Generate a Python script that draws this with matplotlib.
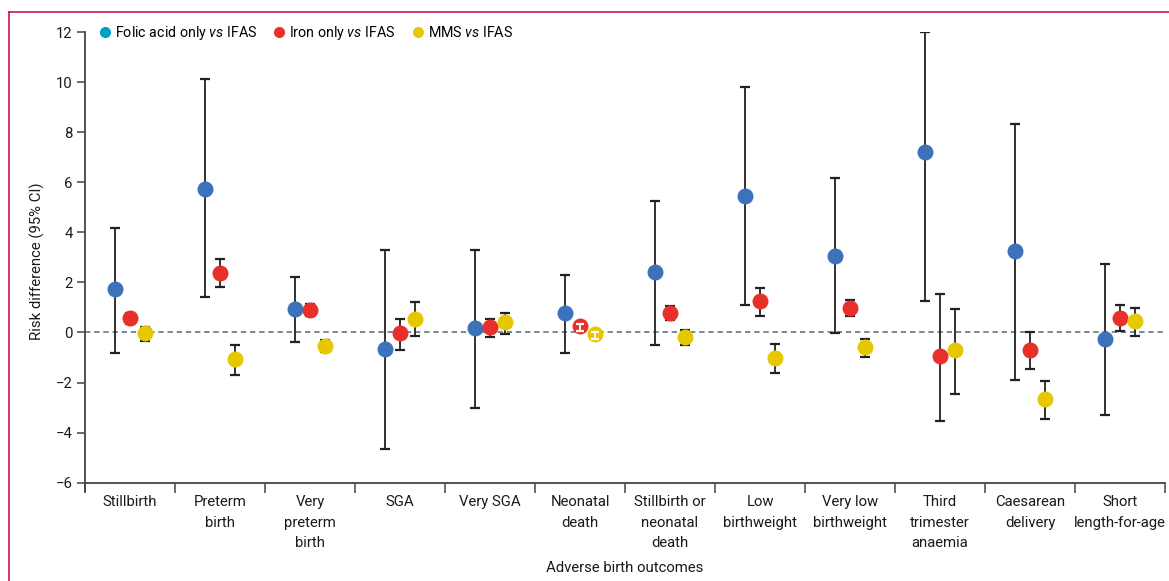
import numpy as np
import matplotlib.pyplot as plt
from matplotlib.lines import Line2D

plt.rcParams['font.family'] = ['Roboto', 'DejaVu Sans']
plt.rcParams['mathtext.fontset'] = 'custom'
plt.rcParams['mathtext.it'] = 'Roboto:italic'
plt.rcParams['mathtext.rm'] = 'Roboto'

outcomes = ["Stillbirth", "Preterm\nbirth", "Very\npreterm\nbirth", "SGA", "Very SGA",
            "Neonatal\ndeath", "Stillbirth or\nneonatal\ndeath", "Low\nbirthweight",
            "Very low\nbirthweight", "Third\ntrimester\nanaemia", "Caesarean\ndelivery",
            "Short\nlength-for-age"]

# risk differences with 95% CI
folic_rd = [1.72, 5.75, 0.95, -0.66, 0.16, 0.77, 2.42, 5.45, 3.07, 7.22, 3.26, -0.24]
folic_lo = [-0.80, 1.40, -0.36, -4.67, -3.03, -0.80, -0.49, 1.08, -0.04, 1.26, -1.88, -3.28]
folic_hi = [4.18, 10.12, 2.20, 3.31, 3.31, 2.30, 5.26, 9.80, 6.17, 12.0, 8.33, 2.74]

iron_rd = [0.56, 2.39, 0.91, -0.04, 0.20, 0.24, 0.77, 1.24, 0.99, -0.94, -0.70, 0.59]
iron_lo = [0.35, 1.80, 0.64, -0.68, -0.20, 0.05, 0.48, 0.67, 0.64, -3.52, -1.44, 0.07]
iron_hi = [0.76, 2.95, 1.15, 0.52, 0.55, 0.35, 1.04, 1.76, 1.30, 1.54, 0.00, 1.08]

mms_rd = [-0.04, -1.05, -0.52, 0.55, 0.41, -0.08, -0.18, -1.00, -0.57, -0.69, -2.66, 0.45]
mms_lo = [-0.33, -1.69, -0.76, -0.16, -0.06, -0.25, -0.49, -1.60, -0.97, -2.45, -3.47, -0.13]
mms_hi = [0.20, -0.48, -0.29, 1.20, 0.79, 0.02, 0.08, -0.44, -0.25, 0.95, -1.92, 0.99]

series = [
    ("Folic acid only $\\it{vs}$ IFAS", folic_rd, folic_lo, folic_hi, "#3b72ba", "#00a0c6"),
    ("Iron only $\\it{vs}$ IFAS", iron_rd, iron_lo, iron_hi, "#e8302a", "#e8302a"),
    ("MMS $\\it{vs}$ IFAS", mms_rd, mms_lo, mms_hi, "#e6c800", "#e6c800"),
]
offsets = [-1 / 6, 0, 1 / 6]
fs = 10.7
txt = "#1a1a1a"

fig = plt.figure(figsize=(11.69, 5.81), dpi=100)
ax = fig.add_axes([85 / 1169, 1 - 491.5 / 581, 1080 / 1169, 459.5 / 581])

x = np.arange(len(outcomes))
ax.axhline(0, color="#56697a", lw=1.1, ls=(0, (3.5, 2.5)), zorder=1)

handles = []
for (label, rd, lo, hi, col, legcol), off in zip(series, offsets):
    rd, lo, hi = np.array(rd), np.array(lo), np.array(hi)
    xs = x + off
    ax.errorbar(xs, rd, yerr=[rd - lo, hi - rd], fmt="none", ecolor="#222222",
                elinewidth=1.3, capsize=3.6, capthick=1.6, zorder=2)
    ax.plot(xs, rd, "o", ms=11.5, color=col, mec="none", zorder=3)
    # very narrow intervals sit inside the dot, so draw them in white on top
    small = (hi - lo) < 0.35
    if small.any():
        ax.errorbar(xs[small], rd[small], yerr=[rd[small] - lo[small], hi[small] - rd[small]],
                    fmt="none", ecolor="white", elinewidth=1.3, capsize=3.0,
                    capthick=1.6, zorder=4)
    handles.append(Line2D([], [], ls="none", marker="o", ms=8, color=legcol,
                          mec="none", label=label))

ax.set_xlim(-0.5, len(outcomes) - 0.5)
ax.set_ylim(-6.35, 12)
ax.spines["bottom"].set_position(("data", -6))
for s in ["top", "right"]:
    ax.spines[s].set_visible(False)
for s in ["left", "bottom"]:
    ax.spines[s].set_color("#444444")
    ax.spines[s].set_linewidth(1.3)

ax.set_yticks(np.arange(-6, 13, 2))
ax.set_yticklabels([f"{v:d}".replace("-", "\u2212") for v in range(-6, 13, 2)])
ax.tick_params(axis="y", length=6, width=1.1, color="#444444", labelsize=fs,
               labelcolor=txt, pad=3)

ax.set_xticks(np.arange(-0.5, len(outcomes)), labels=[])
ax.set_xticks(x, labels=outcomes, minor=True)
ax.tick_params(axis="x", which="major", length=7, width=1.1, color="#444444")
ax.tick_params(axis="x", which="minor", length=0, labelsize=fs, labelcolor=txt,
               pad=9)
for t in ax.get_xticklabels(minor=True):
    t.set_linespacing(1.57)
    t.set_verticalalignment("top")

ax.set_ylabel("Risk difference (95% CI)", fontsize=fs, color=txt, labelpad=8)
ax.set_xlabel("Adverse birth outcomes", fontsize=fs, color=txt, labelpad=8)

ax.legend(handles=handles, loc="upper left", ncol=3, frameon=False, fontsize=10.3,
          handletextpad=0.1, columnspacing=0.95, handlelength=1.2,
          bbox_to_anchor=(0.005, 1.03), borderaxespad=0)

# frame lines of the panel
fig.add_artist(Line2D([9 / 1169, 1], [1 - 12 / 581] * 2, color="#c8184a", lw=1.2))
fig.add_artist(Line2D([9 / 1169] * 2, [0, 1 - 12 / 581], color="#c8184a", lw=1.2))

fig.savefig("out.png", dpi=100)
